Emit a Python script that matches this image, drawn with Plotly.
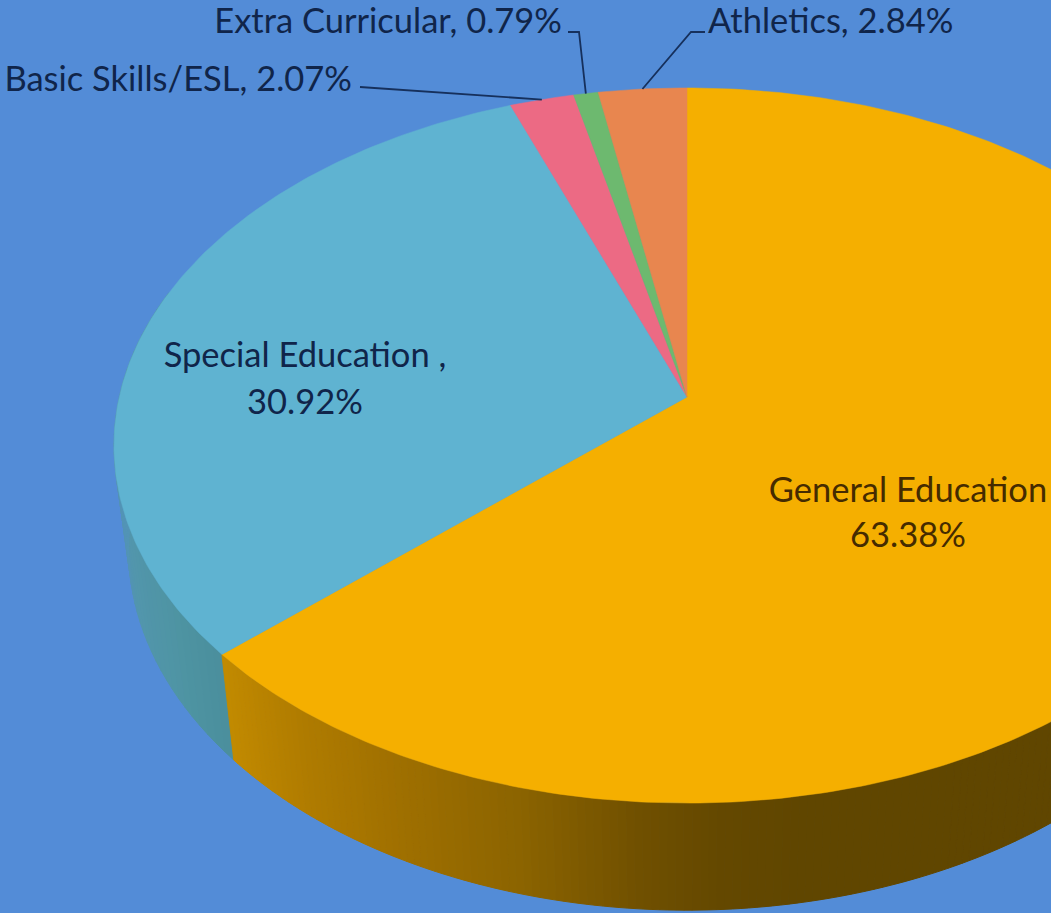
import numpy as np
import plotly.graph_objects as go

# Budget shares, clockwise from twelve o'clock
CATEGORIES = ["General Education", "Special Education", "Basic Skills/ESL", "Extra Curricular", "Athletics"]
SHARES = [63.38, 30.92, 2.07, 0.79, 2.84]
TOP_COLORS = ["#F5AF00", "#5FB3D1", "#EC6A84", "#6DB96F", "#E8864F"]

BACKGROUND = "#538CD7"
W, H = 1051, 913

# Perspective disc: pivot on screen, radial scales and foreshortening
PIVOT_X, PIVOT_Y = 687.0, 397.0
SCALE_X, SCALE_Y = 567.7, 351.0
TILT = 0.1357
# Lower rim of the disc, relative to the top face
RIM_SCALE_X, RIM_SCALE_Y, RIM_PIVOT_Y = 0.9745, 1.01, 500.0

# Side-wall shading as screen x -> rgb
GOLD_X = [225, 300, 400, 520, 640, 720, 800, 1051]
GOLD_RGB = [(196, 140, 0), (178, 125, 0), (160, 112, 0), (140, 100, 0), (112, 80, 0), (100, 72, 0), (96, 70, 0), (96, 70, 0)]
TEAL_X = [120, 140, 190, 235]
TEAL_RGB = [(84, 146, 190), (82, 150, 172), (78, 148, 162), (74, 142, 156)]

FONT = "Lato"
TEXT_BLUE = "#10254A"
TEXT_GOLD = "#452B00"


def project(turn, lower=False):
    """Screen position of a point on the rim at the given clockwise turn (0..1)."""
    a = 2 * np.pi * np.asarray(turn, dtype=float)
    u, v = np.sin(a), np.cos(a)
    d = 1 + TILT * v
    x, y = SCALE_X * u / d, -SCALE_Y * v / d
    if lower:
        return PIVOT_X + RIM_SCALE_X * x, RIM_PIVOT_Y + RIM_SCALE_Y * y
    return PIVOT_X + x, PIVOT_Y + y


def shade(x, stops_x, stops_rgb):
    rgb = [np.interp(x, stops_x, [c[i] for c in stops_rgb]) for i in range(3)]
    return "rgb(%d,%d,%d)" % tuple(round(c) for c in rgb)


edges = np.concatenate([[0], np.cumsum(SHARES)]) / sum(SHARES)
fig = go.Figure()


def add_wall(t0, t1, stops_x, stops_rgb, steps):
    """Front wall of a slice as a run of thin shaded quads."""
    ts = np.linspace(t0, t1, steps + 1)
    for a, b in zip(ts[:-1], ts[1:]):
        xt, yt = project([a, b])
        xb, yb = project([b, a], lower=True)
        color = shade((xb[0] + xb[1]) / 2, stops_x, stops_rgb)
        fig.add_trace(go.Scatter(
            x=list(xt) + list(xb) + [xt[0]], y=list(yt) + list(yb) + [yt[0]],
            mode="lines", fill="toself", fillcolor=color,
            line=dict(color=color, width=1), hoverinfo="skip", showlegend=False))


# Walls: the teal one sits behind the gold one
add_wall(edges[1], 0.80, TEAL_X, TEAL_RGB, 40)
add_wall(0.15, edges[1], GOLD_X, GOLD_RGB, 240)

# Top face
for i, name in enumerate(CATEGORIES):
    ts = np.linspace(edges[i], edges[i + 1], max(6, int(SHARES[i] * 5)))
    rx, ry = project(ts)
    fig.add_trace(go.Scatter(
        x=[PIVOT_X] + list(rx) + [PIVOT_X], y=[PIVOT_Y] + list(ry) + [PIVOT_Y],
        mode="lines", fill="toself", fillcolor=TOP_COLORS[i],
        line=dict(color=TOP_COLORS[i], width=0.5), name=name, showlegend=False))

# Leader lines run from a label to the middle of its slice on the rim
LEADER_STARTS = {2: [(360, 87)], 3: [(568, 32), (579, 32)], 4: [(705, 32), (691, 32)]}
for i, pts in LEADER_STARTS.items():
    ex, ey = project((edges[i] + edges[i + 1]) / 2)
    fig.add_trace(go.Scatter(
        x=[p[0] for p in pts] + [float(ex)], y=[p[1] for p in pts] + [float(ey)],
        mode="lines", line=dict(color="#16305C", width=1.8), hoverinfo="skip", showlegend=False))

pct = [f"{s:.2f}%" for s in SHARES]
LABEL_SIZE = 34.5
text_items = [
    (908, 493, CATEGORIES[0], "middle center", TEXT_GOLD),
    (908, 538, pct[0], "middle center", TEXT_GOLD),
    (305, 358, f"{CATEGORIES[1]} ,", "middle center", TEXT_BLUE),
    (305, 405, pct[1], "middle center", TEXT_BLUE),
    (352, 82, f"{CATEGORIES[2]}, {pct[2]}", "middle left", TEXT_BLUE),
    (562, 24, f"{CATEGORIES[3]}, {pct[3]}", "middle left", TEXT_BLUE),
    (708, 24, f"{CATEGORIES[4]}, {pct[4]}", "middle right", TEXT_BLUE),
]
for x, y, label, pos, color in text_items:
    fig.add_trace(go.Scatter(
        x=[x], y=[y], text=[label], mode="text", textposition=pos,
        textfont=dict(family=FONT, size=LABEL_SIZE, color=color),
        hoverinfo="skip", showlegend=False, cliponaxis=False))

fig.update_layout(
    width=W, height=H, margin=dict(l=0, r=0, t=0, b=0),
    paper_bgcolor=BACKGROUND, plot_bgcolor=BACKGROUND, showlegend=False,
    xaxis=dict(range=[0, W], visible=False, fixedrange=True),
    yaxis=dict(range=[H, 0], visible=False, fixedrange=True),
)
fig.write_html("out.html")
